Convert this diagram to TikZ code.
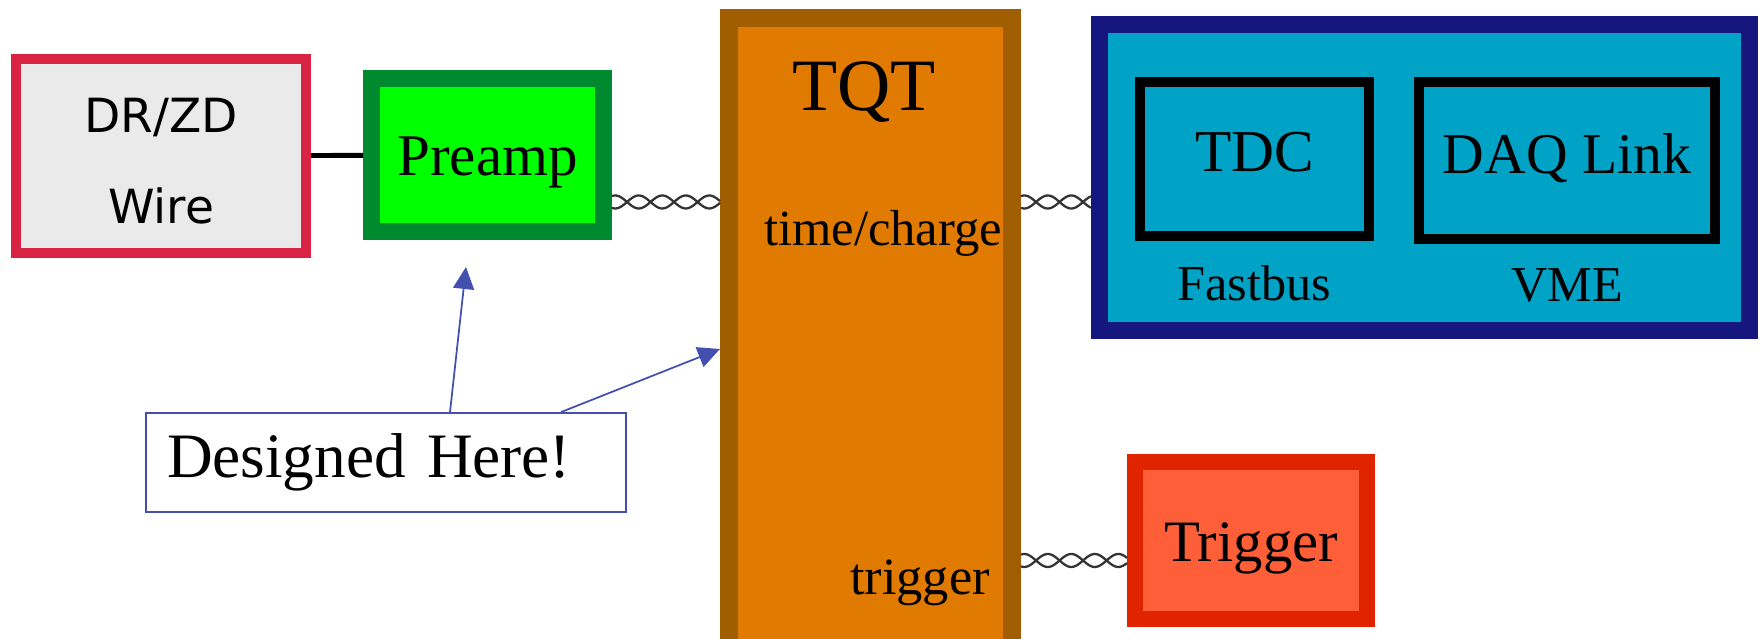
\documentclass[tikz,border=0pt]{standalone}
\usepackage{fontspec}
\setmainfont{Liberation Serif}
\newfontfamily\wirefont{DejaVu Sans}
\usetikzlibrary{positioning}
\usetikzlibrary{arrows.meta}
\usetikzlibrary{calc}

\definecolor{wirered}{HTML}{D92344}
\definecolor{wiregray}{HTML}{EAEAEA}
\definecolor{preborder}{HTML}{008A30}
\definecolor{prefill}{HTML}{00FF00}
\definecolor{tqtborder}{HTML}{A05E00}
\definecolor{tqtfill}{HTML}{E07A00}
\definecolor{crateborder}{HTML}{16167F}
\definecolor{cratefill}{HTML}{00A3C6}
\definecolor{trigborder}{HTML}{E02400}
\definecolor{trigfill}{HTML}{FF5F38}
\definecolor{notecolor}{HTML}{4450B0}

\tikzset{
    module/.style = {rectangle, inner sep=0pt},
    label text/.style = {inner sep=0pt, font=\fontsize{14.3}{17}\selectfont},
    cable/.style = {black!80, line width=0.65pt},
    note arrow/.style = {notecolor, line width=0.5pt, arrows = -{Triangle[length=2.2mm,width=2.1mm]}}
}

% two strands, crossing every 6.7pt
\newcommand{\twistedpair}[2]{%
    \foreach \s in {1,-1}
        \draw[cable] let \p1 = (#1), \p2 = (#2) in
            plot[domain=0:1, samples=61, smooth, variable=\t]
            ({\x1+\t*(\x2-\x1)}, {\y1+\s*1.85*sin(180*(\t*(\x2-\x1)-4.27)/6.69)});
}

\begin{document}
\begin{tikzpicture}

            % \draw [help lines] (0,0) grid (18,7);
            \useasboundingbox (0,0) rectangle (17.59,6.39);
            \clip (0,0) rectangle (17.59,6.39);

            \path   (1.61,4.83) node (wire) [module,draw=wirered,fill=wiregray,line width=1mm,minimum width=2.90cm,minimum height=1.94cm,align=center,font=\wirefont\fontsize{13.4}{26}\selectfont] {\rule{0pt}{4.5mm}DR/ZD\\Wire}
                    (4.875,4.84) node (pre) [module,draw=preborder,fill=prefill,line width=1.7mm,minimum width=2.32cm,minimum height=1.53cm,text height=4.2mm,text depth=0pt,font=\fontsize{16.8}{20}\selectfont] {Preamp}
                    (8.705,3.045) node (tqt) [module,draw=tqtborder,fill=tqtfill,line width=1.8mm,minimum width=2.83cm,minimum height=6.33cm] {}
                    (14.245,4.615) node (crate) [module,draw=crateborder,fill=cratefill,line width=1.7mm,minimum width=6.50cm,minimum height=3.06cm] {}
                    (12.545,4.80) node (tdc) [module,draw=black,line width=1mm,minimum width=2.29cm,minimum height=1.54cm,text height=4.1mm,text depth=1.5mm,font=\fontsize{16.9}{20}\selectfont] {TDC}
                    (15.67,4.785) node (daq) [module,draw=black,line width=1mm,minimum width=2.96cm,minimum height=1.57cm,text height=4.1mm,text depth=1.5mm,font=\fontsize{16.4}{20}\selectfont] {DAQ Link}
                    (12.51,0.985) node (trig) [module,draw=trigborder,fill=trigfill,line width=1.6mm,minimum width=2.32cm,minimum height=1.57cm,text height=4.2mm,text depth=0pt,font=\fontsize{16.7}{20}\selectfont] {Trigger}
                    (3.86,1.765) node (note) [draw=notecolor,line width=0.5pt,minimum height=0.99cm,text width=4.38cm,inner xsep=0.21cm,align=left,font=\fontsize{18}{22}\selectfont] {Designed Here!};

            \node (tqtname) [label text,below=0.52cm of tqt.north,xshift=-0.65mm,font=\fontsize{21}{24}\selectfont] {TQT};
            \node (tqtout) [label text,anchor=base,font=\fontsize{14.4}{17}\selectfont] at (8.83,3.935) {time/charge};
            \node (tqttrig) [label text,anchor=base,font=\fontsize{14.9}{17}\selectfont] at (9.20,0.44) {trigger};
            \node (fastbus) [label text,below=0.24cm of tdc] {Fastbus};
            \node (vme) [label text,below=0.24cm of daq] {VME};

            \draw[line width=1.4pt] (node cs: name =wire ) -- (node cs:name =pre);

            % twisted pair cables
            \coordinate (preout) at ([yshift=-4.7mm]pre.east);
            \coordinate (tqtin) at (preout -| tqt.west);
            \coordinate (tqtout) at (preout -| tqt.east);
            \coordinate (cratein) at (preout -| crate.west);
            \coordinate (trigin) at ([yshift=-2mm]trig.west);
            \coordinate (tqttrigout) at (trigin -| tqt.east);
            \twistedpair{preout}{tqtin}
            \twistedpair{tqtout}{cratein}
            \twistedpair{tqttrigout}{trigin}

            \coordinate (pretip) at ([xshift=-2.15mm,yshift=-2.7mm]pre.south);
            \draw[note arrow] ([xshift=6.4mm]note.north) -- (pretip);
            \draw[note arrow] ([xshift=17.5mm]note.north) -- ([yshift=-1.45mm]tqt.west);

        \end{tikzpicture}
\end{document}
